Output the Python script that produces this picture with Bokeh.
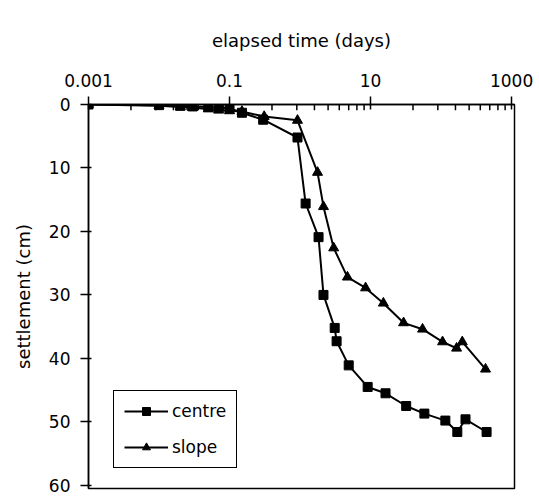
from bokeh.plotting import figure
from bokeh.models import Range1d, FixedTicker, CustomJSTickFormatter, Legend
from bokeh.embed import file_html
from bokeh.resources import INLINE

# ---- data ----
centre_time = [0.001, 0.01, 0.02, 0.03, 0.05, 0.07, 0.1, 0.15, 0.30, 0.92, 1.2, 1.83,
               2.15, 3.1, 3.3, 4.9, 9.1, 16.3, 32, 58, 115, 170, 222, 442]
centre_settlement = [0, 0.1, 0.2, 0.3, 0.4, 0.5, 0.6, 1.3, 2.4, 5.2, 15.6, 20.9,
                     30.0, 35.2, 37.3, 41.1, 44.5, 45.5, 47.5, 48.7, 49.8, 51.6, 49.6, 51.6]

slope_time = [0.001, 0.01, 0.02, 0.03, 0.05, 0.07, 0.1, 0.15, 0.31, 0.92, 1.77, 2.15,
              3.0, 4.7, 8.5, 15.2, 29.4, 54.6, 105, 166, 200, 427]
slope_settlement = [0, 0.2, 0.4, 0.5, 0.7, 0.9, 1.0, 1.1, 1.9, 2.5, 10.7, 16.1,
                    22.6, 27.2, 28.9, 31.3, 34.4, 35.4, 37.4, 38.4, 37.4, 41.7]

x_major_ticks = [0.001, 0.1, 10, 1000]
x_minor_ticks = [b * k * k for b in [0.001, 0.1, 10] for k in range(2, 10)]
y_ticks = [0, 10, 20, 30, 40, 50, 60]
minor_tick_depth = 0.9  # cm, length of the inward minor tick marks

FONT = "DejaVu Sans"
INK = "black"

p = figure(width=539, height=500, x_axis_type="log", x_axis_location="above",
           x_range=Range1d(0.001, 1100), y_range=Range1d(60.5, 0),
           output_backend="svg", toolbar_location=None,
           min_border_left=88, min_border_right=25, min_border_top=104,
           min_border_bottom=12)

p.xgrid.visible = False
p.ygrid.visible = False
p.outline_line_color = INK
p.outline_line_alpha = 1.0
p.outline_line_width = 1.5
p.background_fill_color = "white"
p.border_fill_color = "white"

xa = p.xaxis[0]
xa.ticker = FixedTicker(ticks=x_major_ticks)
xa.formatter = CustomJSTickFormatter(code="return tick.toString();")
xa.axis_label = "elapsed time (days)"
xa.axis_label_text_font = FONT
xa.axis_label_text_font_size = "18px"
xa.axis_label_text_font_style = "normal"
xa.axis_label_text_color = INK
xa.axis_label_standoff = 20
xa.major_label_text_font = FONT
xa.major_label_text_font_size = "17px"
xa.major_label_text_color = INK
xa.major_label_standoff = 10
xa.major_tick_in = 5
xa.major_tick_out = 8
xa.minor_tick_line_color = None
xa.axis_line_width = 1.5
xa.axis_line_color = INK
xa.major_tick_line_width = 1.5
xa.major_tick_line_color = INK

# minor tick marks hanging into the frame from the top axis
p.segment(x0=x_minor_ticks, y0=[0] * len(x_minor_ticks),
          x1=x_minor_ticks, y1=[minor_tick_depth] * len(x_minor_ticks),
          line_color=INK, line_width=1.5)

ya = p.yaxis[0]
ya.ticker = FixedTicker(ticks=y_ticks)
ya.axis_label = "settlement (cm)"
ya.axis_label_text_font = FONT
ya.axis_label_text_font_size = "18px"
ya.axis_label_text_font_style = "normal"
ya.axis_label_text_color = INK
ya.axis_label_standoff = 12
ya.major_label_text_font = FONT
ya.major_label_text_font_size = "17px"
ya.major_label_text_color = INK
ya.major_label_standoff = 10
ya.major_tick_in = 3
ya.major_tick_out = 8
ya.minor_tick_line_color = None
ya.axis_line_width = 1.5
ya.axis_line_color = INK
ya.major_tick_line_width = 1.5
ya.major_tick_line_color = INK

lc = p.line(centre_time, centre_settlement, line_color=INK, line_width=2)
mc = p.scatter(centre_time, centre_settlement, marker="square", size=9,
               fill_color=INK, line_color=INK)
ls = p.line(slope_time, slope_settlement, line_color=INK, line_width=2)
ms = p.scatter(slope_time, slope_settlement, marker="triangle", size=10,
               fill_color=INK, line_color=INK)

legend = Legend(items=[("centre", [lc, mc]), ("slope", [ls, ms])],
                location=(25, 20), margin=0, padding=10, spacing=16,
                glyph_width=44, glyph_height=20, label_height=20,
                label_standoff=4, label_text_font=FONT,
                label_text_font_size="17px", label_text_color=INK,
                border_line_color=INK, border_line_alpha=1.0,
                border_line_width=1.5,
                background_fill_color="white", background_fill_alpha=1.0)
p.add_layout(legend)

open("out.html", "w").write(file_html(p, INLINE))
